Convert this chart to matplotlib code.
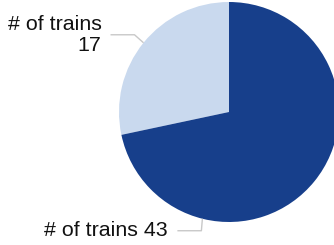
import numpy as np
import matplotlib
matplotlib.use("Agg")
import matplotlib.pyplot as plt

labels = ["# of trains", "# of trains"]
values = [17, 43]
colors = ["#C9D9EE", "#173F8B"]

W, H = 334, 245
fig = plt.figure(figsize=(W / 100, H / 100), dpi=100)
ax = fig.add_axes([0, 0, 1, 1])

cx, cy, r = 229, H - 112, 110
ax.pie(values, colors=colors, startangle=90, counterclock=True,
       center=(cx, cy), radius=r, frame=True,
       wedgeprops=dict(linewidth=0))
ax.set_xlim(0, W)
ax.set_ylim(0, H)
ax.set_axis_off()
ax.set_aspect("equal")

line_c = "#C8C8C8"
font = dict(family=["Liberation Sans", "DejaVu Sans"], fontsize=15.4, color="#111111")

# label 1 (17)
a = np.deg2rad(141)
px, py = cx + r * np.cos(a), cy + r * np.sin(a)
ex, ey = px - 9, py + 8
ax.plot([px, ex, ex - 24], [py, ey, ey], color=line_c, lw=1, solid_capstyle="butt")
ax.text(ex - 33, ey, f"{labels[0]}\n{values[0]}", ha="right", va="center",
        multialignment="right", linespacing=1.15, **font)

# label 2 (43)
a = np.deg2rad(256)
px, py = cx + r * np.cos(a), cy + r * np.sin(a)
ex, ey = px - 1, py - 12
ax.plot([px, ex, ex - 24], [py, ey, ey], color=line_c, lw=1, solid_capstyle="butt")
ax.text(ex - 34, ey, f"{labels[1]} {values[1]}", ha="right", va="center", **font)

fig.savefig("out.png", dpi=100)
